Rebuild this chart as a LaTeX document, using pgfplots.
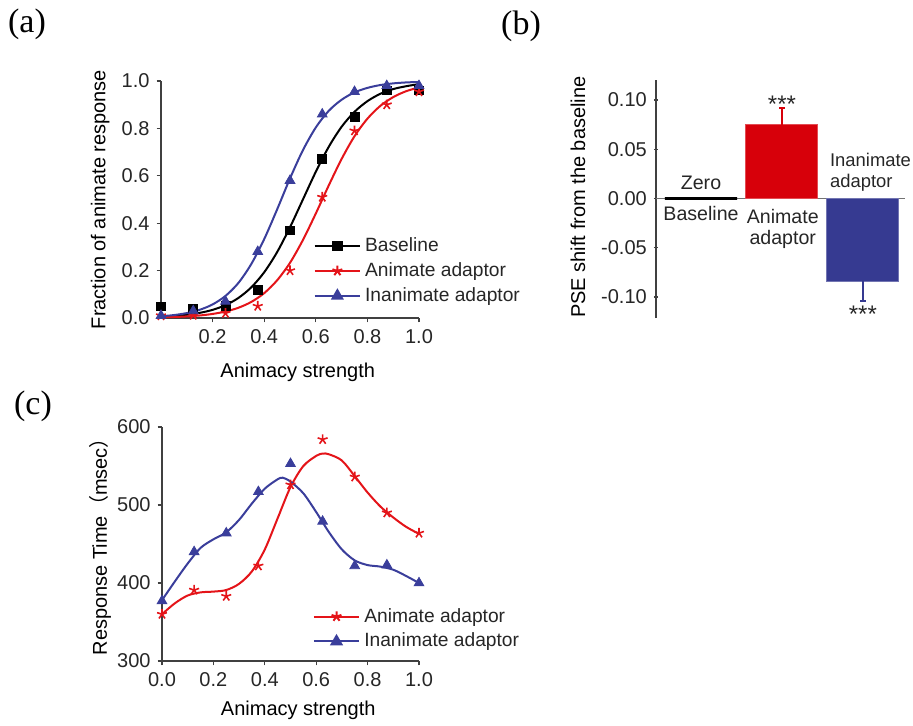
\documentclass[border=0pt]{standalone}
\usepackage{pgfplots}
\pgfplotsset{compat=1.18}
\usepackage{fontspec}
\setmainfont{Liberation Sans}
\newfontfamily\seriffont{Liberation Serif}
\newfontfamily\cjk{Noto Sans CJK SC}
\definecolor{myred}{RGB}{228,20,25}
\definecolor{myblue}{RGB}{58,62,155}
\definecolor{barred}{RGB}{215,0,10}
\definecolor{barblue}{RGB}{54,58,145}
\begin{document}
\begin{tikzpicture}
\useasboundingbox (0,0) rectangle (456.5pt,-362.5pt);
\pgfplotsset{
  common/.style={
    scale only axis,
    axis lines=left,
    axis line style={-, line width=0.6pt, black!75},
    tick align=outside,
    major tick length=2.2pt,
    tick style={line width=0.6pt, black!75},
    tick label style={font=\fontsize{10}{11}\selectfont, text=black!85},
    label style={font=\fontsize{11.5}{13}\selectfont, text=black!85},
    /pgf/number format/assume math mode=true,
    clip=false,
    legend style={draw=none, fill=none, font=\fontsize{9.6}{10}\selectfont, text=black!85,
      legend cell align=left, row sep=0pt, inner sep=0pt},
    legend image code/.code={\draw[mark repeat=2,mark phase=2,##1] plot coordinates {(0cm,0cm) (0.4cm,0cm) (0.8cm,0cm)};},
  },
}
% panel labels
\node[font=\seriffont\fontsize{17}{17}\selectfont] at (13.5pt,-12pt) {(a)};
\node[font=\seriffont\fontsize{17}{17}\selectfont] at (260.5pt,-13pt) {(b)};
\node[font=\seriffont\fontsize{17}{17}\selectfont] at (16.5pt,-203pt) {(c)};

% ---------------- panel (a)
\begin{axis}[common,
  at={(80.5pt,-159pt)}, anchor=south west,
  width=129pt, height=118.5pt,
  xmin=0, xmax=1, ymin=0, ymax=1.0,
  xtick={0.2,0.4,0.6,0.8,1.0},
  ytick={0,0.2,0.4,0.6,0.8,1.0},
  xticklabel style={/pgf/number format/.cd, fixed, fixed zerofill, precision=1},
  yticklabel style={/pgf/number format/.cd, fixed, fixed zerofill, precision=1},
  xlabel={Animacy strength},
  ylabel={Fraction of animate response},
  every axis x label/.style={at={(axis description cs:0.53,-0.228)}, anchor=center},
  every axis y label/.style={at={(axis description cs:-0.236,0.5)}, rotate=90, anchor=center},
  legend style={at={(axis description cs:0.59,0.358)}, anchor=north west},
]
% fitted curves
\addplot[black, line width=1pt, smooth, forget plot] coordinates {
(0,0.0053)(0.05,0.0085)(0.1,0.0136)(0.15,0.0217)(0.2,0.0344)(0.25,0.0543)(0.3,0.0846)
(0.35,0.1295)(0.4,0.193)(0.45,0.278)(0.5,0.383)(0.55,0.5)(0.6,0.617)(0.65,0.722)
(0.7,0.807)(0.75,0.870)(0.8,0.915)(0.85,0.946)(0.9,0.966)(0.95,0.978)(1.0,0.987)};
\addplot[myred, line width=1pt, smooth, forget plot] coordinates {
(0,0.0026)(0.05,0.0042)(0.1,0.0067)(0.15,0.0107)(0.2,0.0172)(0.25,0.0273)(0.3,0.0433)
(0.35,0.0679)(0.4,0.105)(0.45,0.159)(0.5,0.233)(0.55,0.329)(0.6,0.441)(0.65,0.559)
(0.7,0.671)(0.75,0.767)(0.8,0.841)(0.85,0.895)(0.9,0.932)(0.95,0.957)(1.0,0.973)};
\addplot[myblue, line width=1pt, smooth, forget plot] coordinates {
(0,0.0073)(0.05,0.0124)(0.1,0.0208)(0.15,0.0347)(0.2,0.0573)(0.25,0.0933)(0.3,0.148)
(0.35,0.228)(0.4,0.333)(0.45,0.458)(0.5,0.589)(0.55,0.708)(0.6,0.804)(0.65,0.874)
(0.7,0.921)(0.75,0.952)(0.8,0.971)(0.85,0.983)(0.9,0.990)(0.95,0.994)(1.0,0.996)};
% data points
\addplot[only marks, mark=square*, mark size=2.2pt, black, forget plot] coordinates {
(0,0.049)(0.125,0.038)(0.25,0.05)(0.375,0.12)(0.5,0.37)(0.625,0.67)(0.75,0.85)(0.875,0.96)(1.0,0.96)};
\addplot[only marks, mark=star, mark size=2.6pt, myred, line width=0.8pt, forget plot] coordinates {
(0,0.01)(0.125,0.012)(0.25,0.02)(0.375,0.05)(0.5,0.2)(0.625,0.51)(0.75,0.79)(0.875,0.9)(1.0,0.955)};
\addplot[only marks, mark=triangle*, mark size=2.8pt, myblue, forget plot] coordinates {
(0,0.01)(0.125,0.03)(0.25,0.07)(0.375,0.28)(0.5,0.58)(0.625,0.86)(0.75,0.955)(0.875,0.98)(1.0,0.98)};
\addlegendimage{black, line width=1pt, mark=square*, mark size=2.2pt}
\addlegendentry{Baseline}
\addlegendimage{myred, line width=1pt, mark=star, mark size=2.6pt}
\addlegendentry{Animate adaptor}
\addlegendimage{myblue, line width=1pt, mark=triangle*, mark size=2.8pt}
\addlegendentry{Inanimate adaptor}
\end{axis}

% ---------------- panel (b)
\begin{axis}[common,
  at={(328pt,-159pt)}, anchor=south west,
  width=124.5pt, height=119pt,
  axis x line=none, axis y line=left,
  axis line style={-},
  xmin=-0.556, xmax=2.52, ymin=-0.1213, ymax=0.1203,
  ytick={-0.1,-0.05,0,0.05,0.1},
  yticklabel style={/pgf/number format/.cd, fixed, fixed zerofill, precision=2},
  ylabel={PSE shift from the baseline},
  every axis y label/.style={at={(axis description cs:-0.313,0.508)}, rotate=90, anchor=center},
]
\addplot[black!55, line width=0.5pt] coordinates {(-0.556,0) (2.52,0)};
\addplot[ybar, bar width=0.89, fill=black, draw=black, line width=1.1pt] coordinates {(0,0)};
\addplot[ybar, bar width=0.89, fill=barred, draw=barred!70, line width=0.5pt,
  error bars/.cd, y dir=plus, y explicit,
  error bar style={barred, line width=0.8pt},
  error mark options={rotate=90, mark size=1.4pt, barred, line width=0.8pt}]
  coordinates {(1,0.075) +- (0,0.017)};
\addplot[ybar, bar width=0.89, fill=barblue, draw=barblue!70, line width=0.5pt,
  error bars/.cd, y dir=minus, y explicit,
  error bar style={barblue, line width=0.8pt},
  error mark options={rotate=90, mark size=1.4pt, barblue, line width=0.8pt}]
  coordinates {(2,-0.084) +- (0,0.020)};
\node[font=\fontsize{9.8}{11}\selectfont, text=black!85] at (axis cs:0,0.0162) {Zero};
\node[font=\fontsize{9.8}{11}\selectfont, text=black!85] at (axis cs:0,-0.0152) {Baseline};
\node[font=\fontsize{9.8}{11}\selectfont, text=black!85] at (axis cs:1.01,-0.018) {Animate};
\node[font=\fontsize{9.8}{11}\selectfont, text=black!85] at (axis cs:1.01,-0.0416) {adaptor};
\node[font=\fontsize{9.2}{11}\selectfont, text=black!85, anchor=west, inner sep=0pt] at (axis cs:1.59,0.0396) {Inanimate};
\node[font=\fontsize{9.2}{11}\selectfont, text=black!85, anchor=west, inner sep=0pt] at (axis cs:1.59,0.0162) {adaptor};
\node[font=\fontsize{12}{12}\selectfont, text=black!85] at (axis cs:1,0.0955) {***};
\node[font=\fontsize{12}{12}\selectfont, text=black!85] at (axis cs:2,-0.117) {***};
\end{axis}

% ---------------- panel (c)
\begin{axis}[common,
  at={(81pt,-330.5pt)}, anchor=south west,
  width=128.5pt, height=117pt,
  xmin=0, xmax=1, ymin=300, ymax=600,
  xtick={0,0.2,0.4,0.6,0.8,1.0},
  ytick={300,400,500,600},
  xticklabel style={/pgf/number format/.cd, fixed, fixed zerofill, precision=1},
  xlabel={Animacy strength},
  ylabel={Response Time{\cjk （}msec{\cjk ）}},
  every axis x label/.style={at={(axis description cs:0.53,-0.21)}, anchor=center},
  every axis y label/.style={at={(axis description cs:-0.24,0.51)}, rotate=90, anchor=center},
  legend style={at={(axis description cs:0.585,0.245)}, anchor=north west},
]
\addplot[myred, line width=1pt, smooth, forget plot] coordinates {
(0,360)(0.05,374)(0.1,384)(0.15,388)(0.2,389)(0.25,391)(0.3,399)(0.35,415)(0.4,443)
(0.45,483)(0.5,523)(0.55,550)(0.6,563)(0.625,566)(0.65,565)(0.7,557)(0.75,537)
(0.8,516)(0.85,498)(0.9,484)(0.95,472)(1.0,463)};
\addplot[myblue, line width=1pt, smooth, forget plot] coordinates {
(0,378)(0.05,402)(0.1,425)(0.15,445)(0.2,456)(0.25,465)(0.3,481)(0.35,502)(0.4,521)
(0.45,533)(0.47,535)(0.5,530)(0.55,515)(0.6,491)(0.65,465)(0.7,443)(0.75,429)
(0.8,423)(0.85,421)(0.9,417)(0.95,409)(1.0,400)};
\addplot[only marks, mark=star, mark size=2.6pt, myred, line width=0.8pt, forget plot] coordinates {
(0,360)(0.125,391)(0.25,383)(0.375,422)(0.5,526)(0.625,584)(0.75,536)(0.875,490)(1.0,464)};
\addplot[only marks, mark=triangle*, mark size=2.8pt, myblue, forget plot] coordinates {
(0,377)(0.125,440)(0.25,464)(0.375,517)(0.5,553)(0.625,479)(0.75,422)(0.875,423)(1.0,400)};
\addlegendimage{myred, line width=1pt, mark=star, mark size=2.6pt}
\addlegendentry{Animate adaptor}
\addlegendimage{myblue, line width=1pt, mark=triangle*, mark size=2.8pt}
\addlegendentry{Inanimate adaptor}
\end{axis}
\end{tikzpicture}
\end{document}
